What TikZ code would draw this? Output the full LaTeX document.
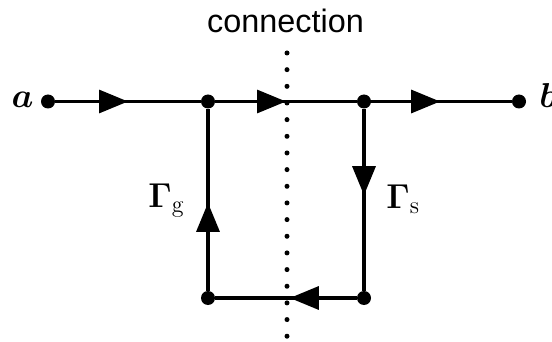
\documentclass[tikz,border=0pt]{standalone}
\usepackage[no-math]{fontspec}
\usepackage{bm}
\newfontfamily\labelsans{Liberation Sans}
\usetikzlibrary{arrows.meta,decorations.markings}
\tikzset{
  dot/.style={circle,fill=black,inner sep=0pt,minimum size=7pt},
  wire/.style={line width=1.6pt},
  midarrow/.style={postaction={decorate},decoration={markings,
    mark=at position #1 with {\arrow{Triangle[length=14.5pt,width=11.5pt]}}}},
  dotline/.style={line width=2.5pt,line cap=round,dash pattern=on 0pt off 8.33pt},
  lbl/.style={inner sep=0pt,font=\fontsize{17}{20}\selectfont},
  endlbl/.style={inner sep=0pt,font=\fontsize{17}{20}\selectfont},
  toplbl/.style={inner sep=0pt,font=\labelsans\fontsize{16.2}{19}\selectfont}
}
\begin{document}
\begin{tikzpicture}[x=0.5pt,y=-0.5pt]
\useasboundingbox (0,0) rectangle (552,342);
% nodes
\node[dot] (A) at (48,101.5) {};
\node[dot] (P) at (208,101.5) {};
\node[dot] (Q) at (364,101.5) {};
\node[dot] (B) at (519,101.5) {};
\node[dot] (R) at (364,298) {};
\node[dot] (S) at (208,298) {};
\coordinate (ctop) at (287,53);
\coordinate (cbot) at (287,336.5);
% cut line
\draw[dotline] (ctop) -- (cbot);
% wires
\draw[wire,midarrow=0.5] (A) -- (P);
\draw[wire,midarrow=0.5] (P) -- (Q);
\draw[wire,midarrow=0.49] (Q) -- (B);
\draw[wire,midarrow=0.475] (Q) -- (R);
\draw[wire,midarrow=0.473] (R) -- (S);
\draw[wire,midarrow=0.483] (S) -- (P);
% labels
\node[endlbl,anchor=base] (la) at (22.5,107.5) {$\bm{a}$};
\node[endlbl,anchor=base west] (lb) at (539,107.5) {$\bm{b}$};
\node[lbl,anchor=base west] (lg) at (148,207) {$\bm{\Gamma}_{\mathrm{g}}$};
\node[lbl,anchor=base west] (ls) at (386,208) {$\bm{\Gamma}_{\mathrm{s}}$};
\node[toplbl,anchor=base] (lc) at (285.5,33) {connection};
\end{tikzpicture}
\end{document}
